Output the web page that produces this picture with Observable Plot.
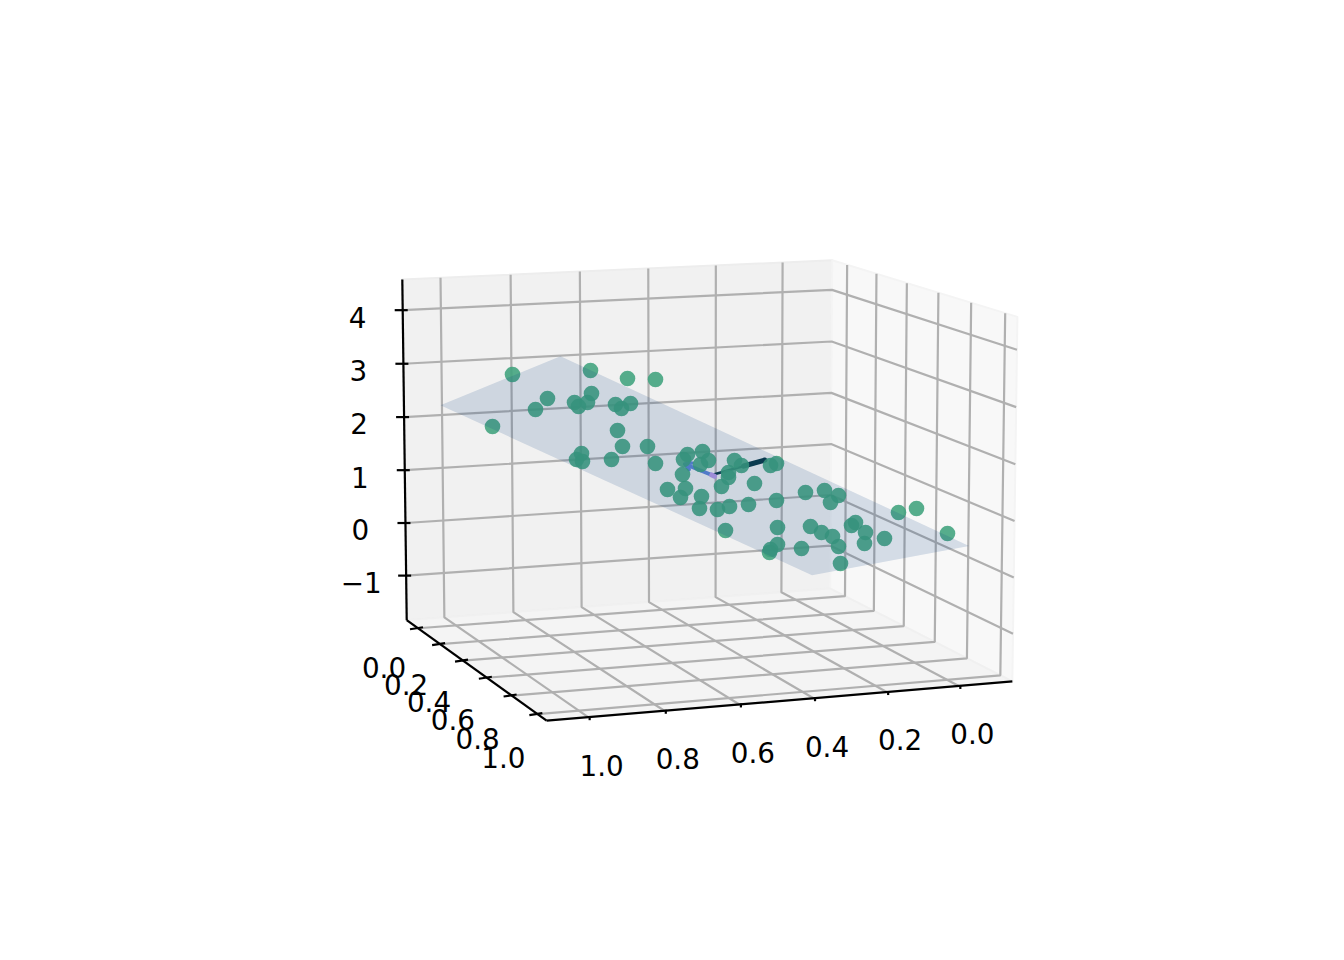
<!DOCTYPE html>
<html>
<head>
<meta charset="utf-8">
<style>html,body{margin:0;padding:0;background:#fff}svg{display:block}</style>
<script src="https://cdn.jsdelivr.net/npm/d3@7"></script>
<script src="https://cdn.jsdelivr.net/npm/@observablehq/plot@0.6"></script>
</head>
<body>
<div id="chart"></div>
<script>
// Axis ticks
const xTicks = [0, 0.2, 0.4, 0.6, 0.8, 1];
const yTicks = [0, 0.2, 0.4, 0.6, 0.8, 1];
const zTicks = [-1, 0, 1, 2, 3, 4];
const xLim = [-0.15, 1.108], yLim = [-0.105, 1.07], zLim = [-1.85, 4.57];
// Fitted plane, position and height at each corner
const planeCornerX = [1.037, 1.035, -0.062, -0.049];
const planeCornerY = [0, 0.98, 0.99, 0];
const planeCornerZ = [2.31, 4.2, 0.495, -1.39];
// Scatter points, read as projected positions on the picture plane
const pointX = [512,590,627,655,591,547,535,574,578,587,615,621,630,492,617,622,647,581,576,582,611,655,
  687,683,702,700,708,734,741,770,776,682,728,728,721,754,667,685,680,701,699,717,729,748,776,725,
  805,824,838,830,898,916,947,777,810,821,832,838,851,855,865,864,884,777,770,769,801,840];
const pointY = [374,370,378,379,393,398,409,402,406,402,404,408,403,426,430,446,446,453,459,461,459,463,
  454,459,451,464,460,460,465,465,463,474,472,477,486,483,489,488,497,496,508,509,506,504,500,530,
  492,490,495,502,512,508,533,527,526,532,536,546,525,522,532,543,538,544,549,552,548,563];
// Principal-direction arrows, as vectors from the data mean
const arrowOrigin = [0.45, 0.5, 1.37];
const arrowTips = [
  {name:"a", color:"#0b3a47", tip:[0.30, 0.5, 1.58], w:2.6, head:0},
  {name:"a2", color:"#0b3a47", from:[0.36, 0.5, 1.495], tip:[0.30, 0.5, 1.58], w:5.2, head:0},
  {name:"b", color:"#5f86d6", tip:[0.526, 0.5, 1.6], w:3.6, head:3},
  {name:"c", color:"#b99be8", tip:[0.45, 0.52, 1.37], w:5, head:0}
];

const elev = 10, azim = 70, dist = 10;
const Sx = 3995, Sy = 4005, cx = 698.5, cy = 474.5;

const rad = Math.PI / 180;
const norm = 1.8294640721620434 * 25 / 24 / Math.hypot(4, 4, 3);
const box = [4 * norm, 4 * norm, 3 * norm];
const W = [Math.cos(elev*rad)*Math.cos(azim*rad), Math.cos(elev*rad)*Math.sin(azim*rad), Math.sin(elev*rad)];
const uLen = Math.hypot(W[0], W[1]);
const U = [-W[1]/uLen, W[0]/uLen, 0];
const V = [W[1]*U[2]-W[2]*U[1], W[2]*U[0]-W[0]*U[2], W[0]*U[1]-W[1]*U[0]];
const dot = (a, b) => a[0]*b[0] + a[1]*b[1] + a[2]*b[2];
function project(x, y, z) {
  const p = [(x-xLim[0])/(xLim[1]-xLim[0])*box[0], (y-yLim[0])/(yLim[1]-yLim[0])*box[1], (z-zLim[0])/(zLim[1]-zLim[0])*box[2]];
  const d = [p[0]-box[0]/2-dist*W[0], p[1]-box[1]/2-dist*W[1], p[2]-box[2]/2-dist*W[2]];
  const zv = -dot(W, d);
  return {x: cx + Sx*dot(U, d)/zv, y: cy - Sy*dot(V, d)/zv};
}
const poly = (pts) => pts.map(p => project(...p));
const [x0, x1] = xLim, [y0, y1] = yLim, [z0, z1] = zLim;

const paneBack = poly([[x1,y0,z0],[x0,y0,z0],[x0,y0,z1],[x1,y0,z1]]);
const paneRight = poly([[x0,y0,z0],[x0,y1,z0],[x0,y1,z1],[x0,y0,z1]]);
const paneFloor = poly([[x1,y0,z0],[x0,y0,z0],[x0,y1,z0],[x1,y1,z0]]);

const gridLines = [
  ...xTicks.map(t => poly([[t,y1,z0],[t,y0,z0],[t,y0,z1]])),
  ...yTicks.map(t => poly([[x1,t,z0],[x0,t,z0],[x0,t,z1]])),
  ...zTicks.map(t => poly([[x1,y0,t],[x0,y0,t],[x0,y1,t]]))
];
const axisLines = [poly([[x1,y0,z1],[x1,y0,z0]]), poly([[x1,y0,z0],[x1,y1,z0]]), poly([[x1,y1,z0],[x0,y1,z0]])];

const zTickRows = zTicks.map(t => ({...project(x1,y0,t), label: String(t).replace("-", "\u2212")}));
const yTickRows = yTicks.map(t => ({...project(x1,t,z0), t, label: t.toFixed(1)}));
const xTickRows = xTicks.map(t => ({...project(t,y1,z0), label: t.toFixed(1)}));

const plane = planeCornerX.map((x, i) => project(x, planeCornerY[i], planeCornerZ[i]));
const points = pointX.map((x, i) => ({x, y: pointY[i]}));
const origin2d = project(...arrowOrigin);

const fillMark = (data, fill, opacity = 1, stroke = "none") => Plot.line(data, {x:"x", y:"y", fill, fillOpacity: opacity, stroke, strokeWidth: 2, curve:"linear-closed"});
const lineMark = (data, stroke, strokeWidth) => Plot.line(data, {x:"x", y:"y", stroke, strokeWidth, strokeLinecap:"butt", strokeLinejoin:"miter"});
const tickFont = {fontSize: 27.8, fontFamily: "'DejaVu Sans'", fill: "#000", textAnchor: "middle", lineAnchor: "middle"};

const chart = Plot.plot({
  width: 1344, height: 960,
  marginLeft: 0, marginRight: 0, marginTop: 0, marginBottom: 0,
  x: {domain: [0, 1344], axis: null},
  y: {domain: [960, 0], axis: null},
  style: {background: "#fff"},
  marks: [
    fillMark(paneBack, "#f1f1f1", 1, "#ededed"),
    fillMark(paneRight, "#f8f8f8", 1, "#f4f4f4"),
    fillMark(paneFloor, "#f4f4f4", 1, "#f0f0f0"),
    gridLines.map(g => lineMark(g, "#b0b0b0", 2.2)),
    axisLines.map(a => lineMark(a, "#000", 2.2)),
    Plot.link(zTickRows, {x1: d=>d.x-8, y1: d=>d.y, x2: d=>d.x+5, y2: d=>d.y, stroke:"#000", strokeWidth:2.2}),
    Plot.link(yTickRows, {x1: d=>d.x-8, y1: d=>d.y+1, x2: d=>d.x+5, y2: d=>d.y-1, stroke:"#000", strokeWidth:2.2}),
    Plot.link(xTickRows, {x1: d=>d.x+1.5, y1: d=>d.y-1, x2: d=>d.x+1.5, y2: d=>d.y+3, stroke:"#000", strokeWidth:2.2}),
    Plot.text(zTickRows, {x:"x", y:"y", text:"label", dx:-45, dy:8.5, ...tickFont}),
    Plot.text(yTickRows, {x:d=>d.x-34, y:d=>d.y+41+4*d.t, text:"label", ...tickFont}),
    Plot.text(xTickRows, {x:"x", y:"y", text:"label", dx:13.5, dy:49.5, ...tickFont}),
    arrowTips.map(a => Plot.arrow([{o:a.from ? project(...a.from) : origin2d, t:project(...a.tip)}], {
      x1:d=>d.o.x, y1:d=>d.o.y, x2:d=>d.t.x, y2:d=>d.t.y, stroke:a.color, strokeWidth:a.w, headLength:a.head
    })),
    Plot.dot(points, {x:"x", y:"y", r:7.8, fill:"#3fa27c", fillOpacity:0.88, stroke:"none"}),
    fillMark(plane, "#073c7f", 0.15)
  ]
});
document.getElementById("chart").appendChild(chart);
</script>
</body>
</html>
